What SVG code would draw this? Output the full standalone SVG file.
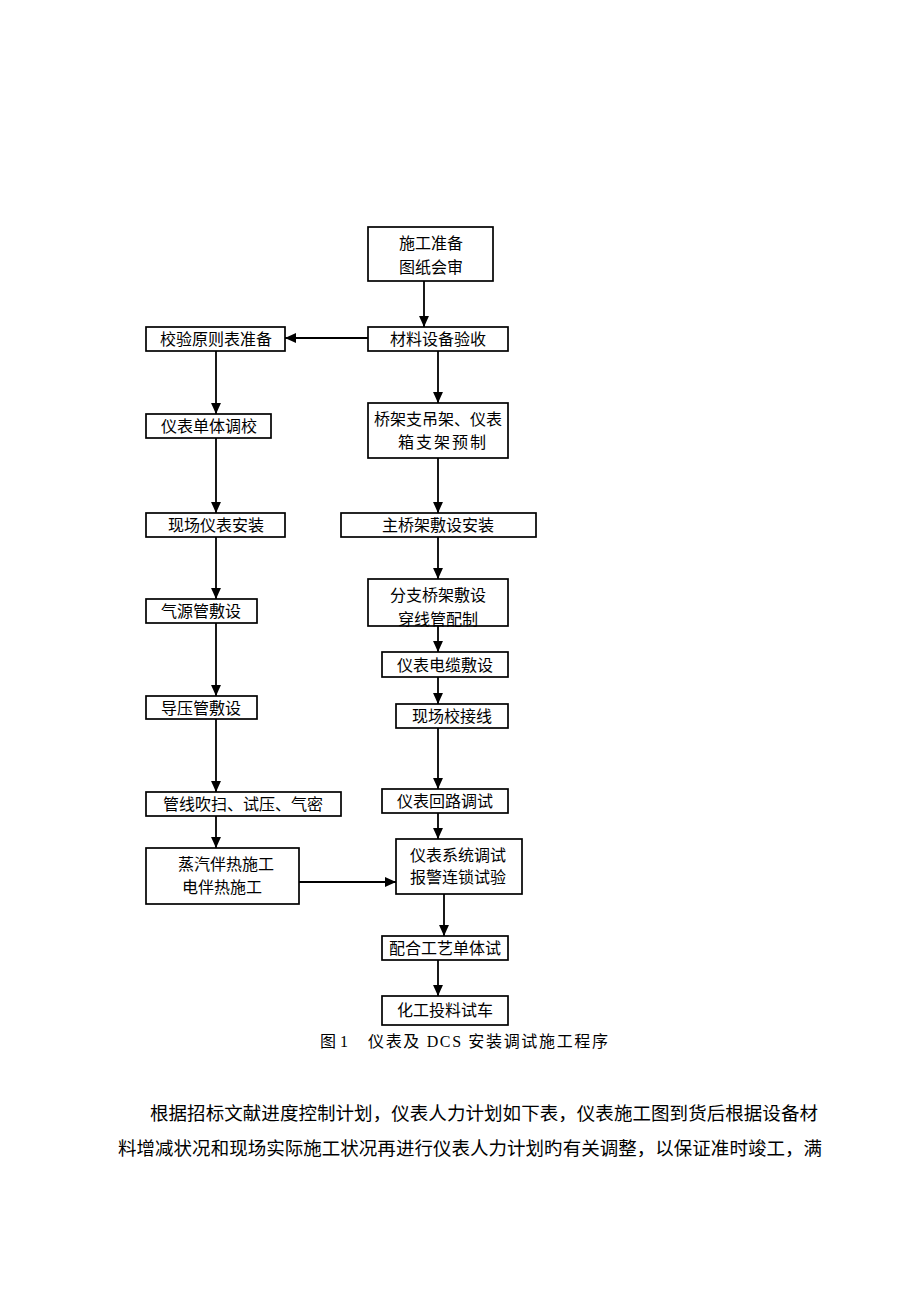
<svg xmlns="http://www.w3.org/2000/svg" width="920" height="1302" viewBox="0 0 920 1302">
<style>
.box{fill:#fff;stroke:#000;stroke-width:1.7}
.t{font-family:"Liberation Serif","Noto Sans CJK SC",serif;font-size:16px;fill:#000;text-anchor:middle}
.c{font-family:"Liberation Serif","Noto Sans CJK SC",serif;font-size:16px;fill:#000}
.p{font-family:"Liberation Serif","Noto Sans CJK SC",serif;font-size:18.5px;fill:#000}
.ln{fill:none;stroke:#000;stroke-width:1.8}
</style>
<defs>
<marker id="ah" viewBox="0 0 10 10" refX="10" refY="5" markerWidth="11" markerHeight="11" markerUnits="userSpaceOnUse" orient="auto">
<path d="M0,0.5 L10,5 L0,9.5 Z" fill="#000"/>
</marker>
</defs>
<rect width="920" height="1302" fill="#fff"/>
<g id="connectors">
<line class="ln" x1="424" y1="281" x2="424" y2="327" marker-end="url(#ah)"/>
<line class="ln" x1="368" y1="338" x2="285" y2="338" marker-end="url(#ah)"/>
<line class="ln" x1="438" y1="351" x2="438" y2="403" marker-end="url(#ah)"/>
<line class="ln" x1="216" y1="351" x2="216" y2="414" marker-end="url(#ah)"/>
<line class="ln" x1="216" y1="438" x2="216" y2="513" marker-end="url(#ah)"/>
<line class="ln" x1="216" y1="537" x2="216" y2="599" marker-end="url(#ah)"/>
<line class="ln" x1="216" y1="623" x2="216" y2="696" marker-end="url(#ah)"/>
<line class="ln" x1="216" y1="719" x2="216" y2="792" marker-end="url(#ah)"/>
<line class="ln" x1="216" y1="816" x2="216" y2="848" marker-end="url(#ah)"/>
<line class="ln" x1="299" y1="882" x2="396" y2="882" marker-end="url(#ah)"/>
<line class="ln" x1="438" y1="458" x2="438" y2="513" marker-end="url(#ah)"/>
<line class="ln" x1="438" y1="537" x2="438" y2="579" marker-end="url(#ah)"/>
<line class="ln" x1="438" y1="626" x2="438" y2="652" marker-end="url(#ah)"/>
<line class="ln" x1="438" y1="677" x2="438" y2="704" marker-end="url(#ah)"/>
<line class="ln" x1="438" y1="728" x2="438" y2="789" marker-end="url(#ah)"/>
<line class="ln" x1="438" y1="813" x2="438" y2="839" marker-end="url(#ah)"/>
<line class="ln" x1="444" y1="894" x2="444" y2="936" marker-end="url(#ah)"/>
<line class="ln" x1="438" y1="960" x2="438" y2="996" marker-end="url(#ah)"/>
</g>
<g id="n1"><rect class="box" x="368" y="227" width="125" height="54"/><text class="t" x="431" y="249">施工准备</text><text class="t" x="431" y="273">图纸会审</text></g>
<g id="n2"><rect class="box" x="368" y="327" width="140" height="24"/><text class="t" x="438" y="345">材料设备验收</text></g>
<g id="n3"><rect class="box" x="146" y="327" width="139" height="24"/><text class="t" x="216" y="345">校验原则表准备</text></g>
<g id="n4"><rect class="box" x="368" y="403" width="140" height="55"/><text class="t" x="438" y="425">桥架支吊架、仪表</text><text class="c" x="398" y="448" textLength="88">箱支架预制</text></g>
<g id="n5"><rect class="box" x="146" y="414" width="125" height="24"/><text class="t" x="209" y="432">仪表单体调校</text></g>
<g id="n6"><rect class="box" x="146" y="513" width="139" height="24"/><text class="t" x="216" y="531">现场仪表安装</text></g>
<g id="n7"><rect class="box" x="341" y="513" width="195" height="24"/><text class="t" x="438" y="531">主桥架敷设安装</text></g>
<g id="n8"><rect class="box" x="146" y="599" width="111" height="24"/><text class="t" x="201" y="617">气源管敷设</text></g>
<g id="n9"><rect class="box" x="368" y="579" width="140" height="47"/><text class="t" x="438" y="601">分支桥架敷设</text><text class="t" x="438" y="625">穿线管配制</text></g>
<g id="n10"><rect class="box" x="382" y="652" width="126" height="25"/><text class="t" x="445" y="671">仪表电缆敷设</text></g>
<g id="n11"><rect class="box" x="146" y="696" width="111" height="23"/><text class="t" x="201" y="714">导压管敷设</text></g>
<g id="n12"><rect class="box" x="396" y="704" width="112" height="24"/><text class="t" x="452" y="722">现场校接线</text></g>
<g id="n13"><rect class="box" x="146" y="792" width="195" height="24"/><text class="t" x="243" y="810">管线吹扫、试压、气密</text></g>
<g id="n14"><rect class="box" x="382" y="789" width="126" height="24"/><text class="t" x="445" y="807">仪表回路调试</text></g>
<g id="n15"><rect class="box" x="146" y="848" width="153" height="56"/><text class="t" x="226" y="870">蒸汽伴热施工</text><text class="t" x="222" y="893">电伴热施工</text></g>
<g id="n16"><rect class="box" x="396" y="839" width="126" height="55"/><text class="t" x="458" y="861">仪表系统调试</text><text class="t" x="458" y="883">报警连锁试验</text></g>
<g id="n17"><rect class="box" x="382" y="936" width="126" height="24"/><text class="t" x="445" y="954">配合工艺单体试</text></g>
<g id="n18"><rect class="box" x="382" y="996" width="126" height="29"/><text class="t" x="445" y="1016">化工投料试车</text></g>
<g id="caption"><text class="c" x="320" y="1047">图 1</text><text class="c" x="368" y="1047" textLength="240">仪表及 DCS 安装调试施工程序</text></g>
<g id="paragraph"><text class="p" x="150" y="1120" textLength="668">根据招标文献进度控制计划，仪表人力计划如下表，仪表施工图到货后根据设备材</text><text class="p" x="118" y="1155" textLength="704">料增减状况和现场实际施工状况再进行仪表人力计划旳有关调整，以保证准时竣工，满</text></g>
</svg>
